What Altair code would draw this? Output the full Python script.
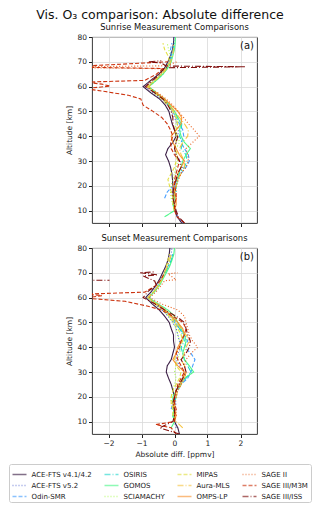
import altair as alt
import pandas as pd

# ---------------- data ----------------
ALT = [5, 7.5, 10, 12.5, 15, 17.5, 20, 22.5, 25, 27.5, 30, 32.5, 35, 37.5, 40,
       42.5, 45, 47.5, 50, 52.5, 55, 57.5, 60, 62.5, 65, 67.5, 70, 72.5, 75, 77.5, 80]

NAMES = ["ACE-FTS v4.1/4.2", "ACE-FTS v5.2", "Odin-SMR", "OSIRIS", "GOMOS", "SCIAMACHY",
         "MIPAS", "Aura-MLS", "OMPS-LP", "SAGE II", "SAGE III/M3M", "SAGE III/ISS"]
COLORS = ["#30123b", "#4458cb", "#3e9bfe", "#18d6cb", "#46f884", "#a2fc3c",
          "#e1dd37", "#f6c23a", "#f98e29", "#e8560f", "#c92903", "#7a0403"]
STYLES = ["solid", "dotted", "dashed", "dashdot"] * 3
DASH = {"solid": [1, 0], "dotted": [1, 2], "dashed": [4, 2], "dashdot": [6, 2, 1, 2]}

# Sunrise (a)
SR_ACE4 = [0.22, 0.08, 0.02, -0.02, -0.03, -0.04, -0.05, -0.06, -0.08, -0.12, -0.18, -0.27, -0.2, -0.05, 0.05,
           0.0, -0.07, -0.12, -0.17, -0.28, -0.45, -0.72, -0.95, -0.72, -0.48, -0.3, -0.2, -0.12, -0.06, -0.03, -0.02]
SR_ACE5 = [0.25, 0.1, 0.03, 0.0, -0.05, -0.08, 0.0, 0.08, 0.15, 0.25, 0.18, 0.05, 0.0, 0.05, 0.1,
           0.12, 0.08, 0.0, -0.08, -0.2, -0.4, -0.65, -0.88, -0.66, -0.42, -0.27, -0.17, -0.1, -0.05, -0.02, -0.02]
SR_ODIN = [None, None, None, None, -0.3, -0.22, -0.05, 0.05, 0.2, 0.35, 0.45, 0.42, 0.3, 0.2, 0.28,
           0.25, 0.15, 0.05, -0.05, -0.18, -0.35, -0.6, -0.8, -0.6, -0.38, -0.25, -0.15, -0.1, -0.12, -0.08, None]
SR_OSIRIS = [None, None, 0.0, -0.02, 0.0, 0.05, 0.05, 0.1, 0.15, 0.3, 0.38, 0.35, 0.2, 0.25, 0.15,
             0.2, 0.22, 0.1, 0.0, -0.15, -0.32, -0.55, -0.78, -0.55, -0.35, -0.22, -0.12, -0.08, -0.04, 0.0, None]
SR_GOMOS = [None, -0.3, 0.0, -0.05, 0.0, 0.0, 0.05, 0.1, 0.12, 0.2, 0.25, 0.35, 0.48, 0.3, 0.2,
            0.15, 0.2, 0.1, 0.0, -0.15, -0.3, -0.55, -0.78, -0.55, -0.35, -0.2, -0.1, -0.05, 0.0, 0.02, 0.03]
SR_SCIA = [None, None, 0.0, -0.05, -0.1, -0.12, -0.1, -0.05, 0.0, 0.05, 0.1, 0.05, 0.05, 0.15, 0.1,
           0.0, 0.05, 0.05, -0.05, -0.18, -0.35, -0.6, -0.8, -0.6, -0.4, -0.25, -0.15, -0.12, -0.18, -0.22, None]
SR_MIPAS = [None, None, 0.0, -0.05, -0.05, -0.1, -0.15, -0.2, -0.1, 0.0, 0.05, 0.1, 0.0, 0.05, 0.05,
            0.05, 0.1, 0.05, -0.05, -0.2, -0.38, -0.62, -0.82, -0.6, -0.4, -0.25, -0.15, -0.2, -0.3, -0.35, None]
SR_MLS = [None, None, 0.0, 0.0, -0.02, 0.0, 0.05, 0.1, 0.2, 0.3, 0.3, 0.2, 0.15, 0.25, 0.4,
          0.42, 0.3, 0.15, 0.0, -0.15, -0.32, -0.55, -0.78, -0.58, -0.38, -0.22, -0.12, -0.06, -0.03, -0.02, None]
SR_OMPS = [None, None, 0.0, 0.05, 0.05, 0.0, -0.05, 0.05, 0.1, 0.2, 0.3, 0.15, 0.05, -0.05, -0.1,
           0.05, 0.2, 0.22, 0.1, -0.1, -0.3, -0.55, None, None, None, None, None, None, None, None, None]
SR_SAGE2_ALT = [10, 12.5, 15, 17.5, 20, 22.5, 25, 27.5, 30, 32.5, 35, 37.5, 40, 42.5, 45, 47.5, 50,
                52.5, 55, 57.5, 60, 62.5, 65, 67.2, 67.6, 68.0, 68.4, 70]
SR_SAGE2 = [0.0, 0.0, 0.05, 0.0, 0.05, 0.12, 0.2, 0.35, 0.42, 0.4, 0.35, 0.55, 0.75, 0.6, 0.42, 0.28, 0.12,
            -0.05, -0.25, -0.5, -0.85, -0.7, -0.45, -0.3, -2.7, -2.7, -0.25, 0.08]
SR_M3M_ALT = [5, 7.5, 10, 12.5, 15, 17.5, 20, 22.5, 25, 27.5, 30, 32.5, 35, 37.5, 40, 42.5, 45, 47.5,
              50, 52.5, 55, 56.5, 58, 59.2, 60.2, 61.0, 61.8, 62.5, 65, 67.3, 67.8, 68.3, 70]
SR_M3M = [0.3, 0.08, 0.0, 0.0, 0.05, 0.05, 0.0, 0.0, 0.05, 0.1, 0.15, 0.0, -0.1, -0.12, -0.05, -0.12, -0.22, -0.38,
          -0.65, -0.95, -1.02, -1.4, -2.1, -2.7, -1.95, -2.2, -2.7, -0.9, -0.55, -0.35, -2.7, -2.7, -0.2]
SR_ISS_ALT = [5, 7.5, 10, 12.5, 15, 17.5, 20, 22.5, 25, 27.5, 30, 32.5, 35, 37.5, 40, 42.5, 45, 47.5,
              50, 52.5, 55, 57.5, 60, 62.5, 65, 67.6, 68.0, 68.3, 69.5, 70, 70.4]
SR_ISS = [0.3, 0.12, 0.05, 0.0, -0.05, -0.05, 0.0, 0.05, 0.1, 0.2, 0.15, 0.05, 0.0, 0.05, 0.1, 0.0, -0.05, -0.05,
          -0.1, -0.2, -0.35, -0.6, -0.88, -0.66, -0.45, -0.3, 2.15, -0.25, -0.4, -0.8, -0.4]

# Sunset (b)
SS_ACE4 = [0.15, 0.1, 0.0, 0.0, -0.02, 0.0, 0.0, -0.05, -0.1, -0.18, -0.25, -0.22, -0.1, -0.05, 0.0,
           -0.03, -0.03, -0.1, -0.16, -0.3, -0.46, -0.68, -0.87, -0.7, -0.56, -0.45, -0.36, -0.27, -0.2, -0.16, -0.14]
SS_ACE5 = [None, 0.05, 0.0, -0.05, 0.0, 0.05, 0.0, 0.05, 0.15, 0.25, 0.3, 0.15, 0.05, 0.1, 0.2,
           0.15, 0.1, 0.05, -0.05, -0.2, -0.38, -0.6, -0.82, -0.65, -0.5, -0.4, -0.3, -0.22, -0.15, -0.1, -0.08]
SS_ODIN = [None, None, None, None, -0.1, -0.05, 0.0, 0.05, 0.2, 0.4, 0.5, 0.55, 0.62, 0.5, 0.3,
           0.4, 0.3, 0.15, 0.0, -0.12, -0.3, -0.55, -0.78, -0.62, -0.5, -0.4, -0.3, -0.2, -0.1, -0.05, None]
SS_OSIRIS = [None, None, 0.0, -0.05, -0.02, 0.0, 0.05, 0.1, 0.2, 0.35, 0.5, 0.4, 0.3, 0.25, 0.2,
             0.3, 0.25, 0.15, 0.05, -0.1, -0.3, -0.55, -0.78, -0.6, -0.48, -0.38, -0.28, -0.18, -0.1, -0.05, None]
SS_GOMOS = [None, -0.1, 0.0, -0.05, 0.0, -0.05, -0.05, 0.05, 0.15, 0.3, 0.58, 0.45, 0.3, 0.25, 0.3,
            0.35, 0.3, 0.2, 0.1, 0.0, -0.2, -0.5, -0.8, -0.6, -0.45, -0.35, -0.25, -0.15, -0.08, -0.02, 0.0]
SS_SCIA = [None, None, 0.0, 0.0, -0.05, -0.1, -0.1, -0.05, 0.0, 0.05, 0.0, 0.05, 0.1, 0.15, 0.2,
           0.15, 0.1, 0.05, -0.05, -0.18, -0.35, -0.6, -0.8, -0.62, -0.48, -0.38, -0.3, -0.22, -0.15, -0.1, None]
SS_MIPAS = [None, None, 0.0, -0.05, -0.05, -0.1, -0.1, -0.05, 0.05, 0.15, 0.2, 0.05, 0.0, 0.05, 0.15,
            0.25, 0.2, 0.1, 0.0, -0.15, -0.32, -0.58, -0.8, -0.62, -0.48, -0.38, -0.3, -0.25, -0.2, -0.15, None]
SS_MLS = [None, 0.25, 0.05, 0.0, 0.0, 0.0, 0.05, 0.1, 0.2, 0.3, 0.35, 0.3, 0.2, 0.3, 0.35,
          0.45, 0.35, 0.2, 0.05, -0.12, -0.3, -0.55, -0.8, -0.62, -0.48, -0.38, -0.3, -0.22, -0.15, -0.1, None]
SS_OMPS = [None, None, 0.0, 0.05, 0.0, -0.05, 0.0, 0.05, 0.15, 0.25, 0.3, 0.1, -0.05, 0.05, 0.1,
           0.2, 0.3, 0.25, 0.1, -0.08, -0.28, -0.52, None, None, None, None, None, None, None, None, None]
SS_SAGE2_ALT = [10, 12.5, 15, 17.5, 20, 22.5, 25, 27.5, 30, 32.5, 35, 37.5, 40, 42.5, 45, 47.5, 50,
                52.5, 55, 57.5, 60, 62.5, 65, 66.8, 67.2, 69.6, 70]
SS_SAGE2 = [0.0, 0.05, 0.05, 0.0, 0.05, 0.1, 0.2, 0.3, 0.35, 0.3, 0.35, 0.5, 0.7, 0.55, 0.45, 0.4, 0.35,
            0.3, 0.1, -0.4, -0.75, -0.55, -0.4, -0.3, 0.05, -0.2, 0.1]
SS_M3M_ALT = [5, 7.5, 8.8, 10, 12.5, 15, 17.5, 20, 22.5, 25, 27.5, 30, 32.5, 35, 37.5, 40, 42.5, 45,
              47.5, 50, 52.5, 55, 56.5, 58.5, 59.8, 60.8, 61.4, 62.2, 65, 67.5, 70]
SS_M3M = [0.05, -0.1, -0.57, 0.0, 0.0, 0.05, 0.0, 0.0, 0.05, 0.1, 0.2, 0.3, 0.2, 0.1, 0.05, 0.15, 0.2, 0.3,
          0.35, 0.25, -0.05, -0.4, -0.8, -1.5, -2.7, -2.2, -2.7, -0.9, -0.55, -0.4, -0.3]
SS_ISS_ALT = [5, 7.5, 10, 12.5, 15, 17.5, 20, 22.5, 25, 27.5, 30, 32.5, 35, 37.5, 40, 42.5, 45, 47.5,
              50, 52.5, 55, 57.5, 60, 62.5, 65, 66.7, 68.7, 69.2, 70, 70.4]
SS_ISS = [0.15, -0.45, -0.05, 0.0, 0.0, -0.05, 0.0, 0.05, 0.15, 0.25, 0.35, 0.3, 0.2, 0.35, 0.45, 0.48, 0.4, 0.35,
          0.3, 0.05, -0.3, -0.6, -0.95, -0.8, -0.55, -0.6, -0.95, -0.5, -1.05, -0.6]
SS_ISS_B_ALT = [67.0, 67.0]
SS_ISS_B = [-2.7, -1.97]

SERIES = {
    "a": [("ACE-FTS v4.1/4.2", ALT, SR_ACE4), ("ACE-FTS v5.2", ALT, SR_ACE5), ("Odin-SMR", ALT, SR_ODIN),
          ("OSIRIS", ALT, SR_OSIRIS), ("GOMOS", ALT, SR_GOMOS), ("SCIAMACHY", ALT, SR_SCIA),
          ("MIPAS", ALT, SR_MIPAS), ("Aura-MLS", ALT, SR_MLS), ("OMPS-LP", ALT, SR_OMPS),
          ("SAGE II", SR_SAGE2_ALT, SR_SAGE2), ("SAGE III/M3M", SR_M3M_ALT, SR_M3M),
          ("SAGE III/ISS", SR_ISS_ALT, SR_ISS)],
    "b": [("ACE-FTS v4.1/4.2", ALT, SS_ACE4), ("ACE-FTS v5.2", ALT, SS_ACE5), ("Odin-SMR", ALT, SS_ODIN),
          ("OSIRIS", ALT, SS_OSIRIS), ("GOMOS", ALT, SS_GOMOS), ("SCIAMACHY", ALT, SS_SCIA),
          ("MIPAS", ALT, SS_MIPAS), ("Aura-MLS", ALT, SS_MLS), ("OMPS-LP", ALT, SS_OMPS),
          ("SAGE II", SS_SAGE2_ALT, SS_SAGE2), ("SAGE III/M3M", SS_M3M_ALT, SS_M3M),
          ("SAGE III/ISS", SS_ISS_ALT, SS_ISS), ("SAGE III/ISS", SS_ISS_B_ALT, SS_ISS_B)],
}

def frame(panel):
    rows = []
    for s, (name, alts, vals) in enumerate(SERIES[panel]):
        for i, (a, v) in enumerate(zip(alts, vals)):
            if v is None:
                continue
            rows.append({"name": name, "seg": f"{name}-{s}", "alt": a, "val": v, "idx": i})
    return pd.DataFrame(rows)

DASHES = [DASH[s] for s in STYLES]

FONT = "DejaVu Sans"
W, H = 165, 186


def panel(key, subtitle, label, bottom):
    df = frame(key)
    if key == "a":
        leg = alt.Legend(title=None)
        color = alt.Color("name:N", scale=alt.Scale(domain=NAMES, range=COLORS), legend=leg)
        dash = alt.StrokeDash("name:N", scale=alt.Scale(domain=NAMES, range=DASHES), legend=leg)
    else:
        color = alt.Color("name:N", scale=alt.Scale(domain=NAMES, range=COLORS), legend=None)
        dash = alt.StrokeDash("name:N", scale=alt.Scale(domain=NAMES, range=DASHES), legend=None)
    if bottom:
        xaxis = alt.Axis(values=[-2, -1, 0, 1, 2], title="Absolute diff. [ppmv]", format="d")
    else:
        xaxis = alt.Axis(values=[-2, -1, 0, 1, 2], labels=False, title=None)
    lines = alt.Chart(df).mark_line(strokeWidth=1.1, clip=True, opacity=0.95).encode(
        x=alt.X("val:Q", scale=alt.Scale(domain=[-2.5, 2.5], nice=False, zero=False), axis=xaxis),
        y=alt.Y("alt:Q", scale=alt.Scale(domain=[5, 80], nice=False, zero=False),
                axis=alt.Axis(values=[10, 20, 30, 40, 50, 60, 70, 80], title="Altitude [km]")),
        color=color,
        strokeDash=dash,
        detail="seg:N",
        order="idx:Q",
    )
    lab = alt.Chart(pd.DataFrame({"t": [label]})).mark_text(
        align="right", baseline="top", fontSize=10, font=FONT, color="#111"
    ).encode(text="t:N", x=alt.value(W - 3), y=alt.value(4))
    return alt.layer(lines, lab).properties(
        width=W, height=H,
        title=alt.TitleParams(subtitle, fontSize=8.4, fontWeight="normal", font=FONT, color="#111", offset=2),
    )


top = panel("a", "Sunrise Measurement Comparisons", "(a)", False)
bot = panel("b", "Sunset Measurement Comparisons", "(b)", True)

chart = alt.vconcat(top, bot, spacing=5).resolve_scale(
    color="shared", strokeDash="shared"
).properties(
    title=alt.TitleParams("Vis. O\u2083 comparison: Absolute difference", fontSize=12.5,
                          fontWeight="normal", font=FONT, color="#111", anchor="middle", offset=1),
    padding=0,
).configure_view(
    stroke="#222", strokeWidth=0.9
).configure_axis(
    labelFont=FONT, titleFont=FONT, labelFontSize=7.5, titleFontSize=7.5, labelColor="#222",
    titleColor="#222", tickColor="#222", tickSize=3.5, domain=False, gridColor="#d9d9d9",
    gridWidth=0.8, titleFontWeight="normal", labelPadding=2, titlePadding=3,
).configure_legend(
    orient="none", legendX=-83, legendY=427, columns=4, gridAlign="each", symbolType="stroke",
    symbolSize=196, symbolStrokeWidth=1.5, symbolOpacity=0.6, labelFont=FONT, labelFontSize=7,
    labelColor="#222", rowPadding=-5, columnPadding=9, padding=2.5, strokeColor="#cccccc",
    cornerRadius=2, labelOffset=4, fillColor="white",
)

chart.save("out.html", embed_options={"renderer": "svg", "actions": False})
